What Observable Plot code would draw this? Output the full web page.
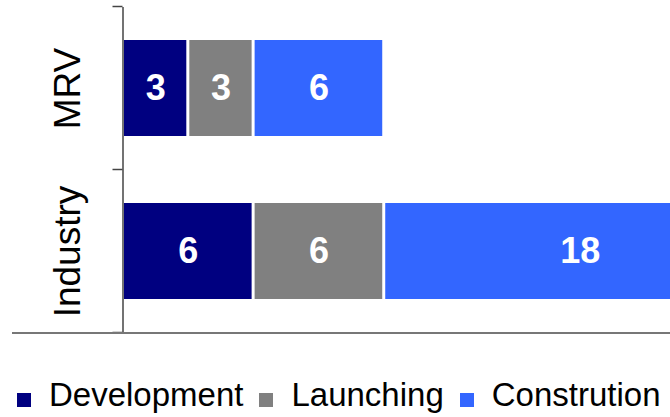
<!DOCTYPE html>
<html>
<head>
<meta charset="utf-8">
<script src="https://cdn.jsdelivr.net/npm/d3@7"></script>
<script src="https://cdn.jsdelivr.net/npm/@observablehq/plot@0.6"></script>
<style>
  body { margin: 0; background: white; font-family: "Liberation Sans", Arial, sans-serif; }
  #legend { display: flex; align-items: center; padding-left: 17px; padding-top: 28px; height: 44px; line-height: 38px; font-size: 33px; color: #000; white-space: nowrap; }
  #legend .sw { flex: 0 0 14px; width: 14px; height: 14px; margin-right: 18px; margin-top: 10px; }
  #legend .lab { flex: 0 0 auto; margin-right: 16px; }
</style>
</head>
<body>
<div id="chart"></div>
<div id="legend"></div>
<script>
const categories = ["MRV", "Industry"];
const series = ["Development", "Launching", "Constrution"];
const colors = ["#000080", "#808080", "#3366FF"];
const mrvValues = [3, 3, 6];
const industryValues = [6, 6, 18];

const valuesByCategory = [mrvValues, industryValues];
const data = categories.flatMap((c, i) =>
  series.map((s, j) => ({ category: c, series: s, value: valuesByCategory[i][j] }))
);

const W = 670, H = 345, mT = 7, mB = 12, mL = 122.5, mR = 0;

const plot = Plot.plot({
  width: W, height: H,
  marginTop: mT, marginBottom: mB, marginLeft: mL, marginRight: mR,
  style: { fontFamily: "'Liberation Sans', Arial, sans-serif", background: "white", overflow: "hidden" },
  x: { domain: [0, 25.15], axis: null },
  y: { domain: categories, paddingInner: 0.41, paddingOuter: 0.205, label: null, axis: null },
  color: { domain: series, range: colors },
  marks: [
    Plot.barX(data, Plot.stackX({ x: "value", y: "category", fill: "series", insetLeft: 1.5, insetRight: 1.5, clip: true })),
    Plot.text(data, Plot.stackX({ x: "value", y: "category", text: d => String(d.value), fill: "white", fontSize: 36, fontWeight: "bold" })),
    Plot.ruleX([0], { stroke: "#444", strokeWidth: 1.5 }),
    Plot.axisY({ tickSize: 0, tickRotate: -90, fontSize: 37, tickPadding: 43, fill: "black", label: null })
  ]
});

// band boundary ticks and baseline, positioned via the plot's y scale
const ys = plot.scale("y");
const gapHalf = (ys.step - ys.bandwidth) / 2;
const bounds = categories.map(c => ys.apply(c) - gapHalf);
bounds.push(ys.apply(categories[categories.length - 1]) + ys.bandwidth + gapHalf);
const svg = d3.select(plot);
svg.append("g")
  .selectAll("line").data(bounds).join("line")
  .attr("x1", mL - 10).attr("x2", mL).attr("y1", d => d).attr("y2", d => d)
  .attr("stroke", "#444").attr("stroke-width", 1.5);
svg.append("line")
  .attr("x1", 12).attr("x2", W).attr("y1", H - mB).attr("y2", H - mB)
  .attr("stroke", "#777").attr("stroke-width", 2);

document.getElementById("chart").appendChild(plot);

const legend = d3.select("#legend");
series.forEach((s, i) => {
  legend.append("div").attr("class", "sw").style("background", colors[i]);
  legend.append("div").attr("class", "lab").text(s);
});
</script>
</body>
</html>
